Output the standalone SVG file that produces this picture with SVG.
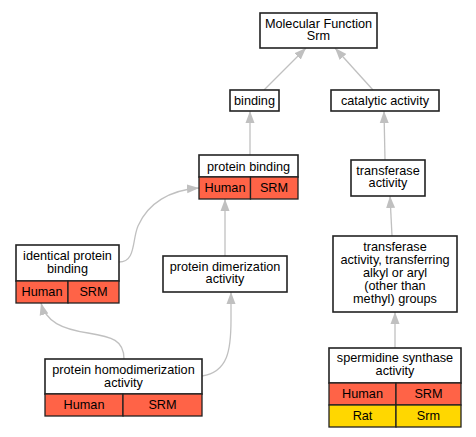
<svg xmlns="http://www.w3.org/2000/svg" width="476" height="437" viewBox="0 0 476 437">
<style>
text{font-family:"Liberation Sans",Arial,sans-serif;font-size:12.7px;fill:#000;text-anchor:middle}
.box{fill:#fff;stroke:#222;stroke-width:1.6}
.hu{fill:#ff6347;stroke:#222;stroke-width:1.3}
.rat{fill:#ffd700;stroke:#222;stroke-width:1.3}
.e{fill:none;stroke:#c0c0c0;stroke-width:1.3}
</style>
<defs>
<marker id="arr" viewBox="0 0 12 10" refX="12" refY="5" markerWidth="12" markerHeight="10" markerUnits="userSpaceOnUse" orient="auto">
<path d="M0,0.5 L12,5 L0,9.5 z" fill="#c0c0c0"/>
</marker>
</defs>
<rect width="476" height="437" fill="#fff"/>
<g id="connectors">
<path class="e" marker-end="url(#arr)" d="M264,90 L306,48"/>
<path class="e" marker-end="url(#arr)" d="M373,90 L335,48"/>
<path class="e" marker-end="url(#arr)" d="M250,155 L250,111"/>
<path class="e" marker-end="url(#arr)" d="M385,160 L384,111"/>
<path class="e" marker-end="url(#arr)" d="M392,236 L390,196"/>
<path class="e" marker-end="url(#arr)" d="M395,348 L395,312"/>
<path class="e" marker-end="url(#arr)" d="M225,256 L225,199"/>
<path class="e" marker-end="url(#arr)" d="M119,262 C136,262 132,240 138,226 C148,203 170,190 199,188"/>
<path class="e" marker-end="url(#arr)" d="M124,359 C124,340 112,337 88,333 C62,329 46,322 41,303"/>
<path class="e" marker-end="url(#arr)" d="M202,376 C228,372 231,350 231,320 L231,292"/>
</g>
<g id="mf">
<rect class="box" x="260" y="13" width="117" height="35"/>
<text x="318.5" y="27.5">Molecular Function</text>
<text x="318.5" y="40">Srm</text>
</g>
<g id="binding">
<rect class="box" x="230" y="90" width="49" height="21"/>
<text x="254.5" y="105">binding</text>
</g>
<g id="catalytic">
<rect class="box" x="331" y="90" width="108" height="21"/>
<text x="385" y="105">catalytic activity</text>
</g>
<g id="protein_binding">
<rect class="box" x="199" y="155" width="99" height="22"/>
<rect class="hu" x="199" y="177" width="51.5" height="22"/>
<rect class="hu" x="250.5" y="177" width="47.5" height="22"/>
<text x="248.5" y="170.5">protein binding</text>
<text x="225" y="192">Human</text>
<text x="274" y="192">SRM</text>
</g>
<g id="identical">
<rect class="box" x="16" y="245" width="103" height="36"/>
<rect class="hu" x="16" y="281" width="52" height="22"/>
<rect class="hu" x="68" y="281" width="51" height="22"/>
<text x="67.5" y="259.5">identical protein</text>
<text x="67.5" y="272.5">binding</text>
<text x="42" y="295.5">Human</text>
<text x="93.5" y="295.5">SRM</text>
</g>
<g id="dimerization">
<rect class="box" x="163" y="256" width="124" height="36"/>
<text x="225" y="270.5">protein dimerization</text>
<text x="225" y="283">activity</text>
</g>
<g id="homodimerization">
<rect class="box" x="45" y="359" width="157" height="35"/>
<rect class="hu" x="45" y="394" width="78" height="22"/>
<rect class="hu" x="123" y="394" width="79" height="22"/>
<text x="123.5" y="373.5">protein homodimerization</text>
<text x="123.5" y="386.5">activity</text>
<text x="84" y="409">Human</text>
<text x="162.5" y="409">SRM</text>
</g>
<g id="transferase">
<rect class="box" x="351" y="160" width="74" height="36"/>
<text x="388" y="174.5">transferase</text>
<text x="388" y="187">activity</text>
</g>
<g id="transferring">
<rect class="box" x="333" y="236" width="124" height="76"/>
<text x="395" y="250.5">transferase</text>
<text x="395" y="263.5">activity, transferring</text>
<text x="395" y="276.5">alkyl or aryl</text>
<text x="395" y="289.5">(other than</text>
<text x="395" y="302.5">methyl) groups</text>
</g>
<g id="spermidine">
<rect class="box" x="329" y="348" width="132" height="35"/>
<rect class="hu" x="329" y="383" width="67" height="22"/>
<rect class="hu" x="396" y="383" width="65" height="22"/>
<rect class="rat" x="329" y="405" width="67" height="22"/>
<rect class="rat" x="396" y="405" width="65" height="22"/>
<text x="395" y="362">spermidine synthase</text>
<text x="395" y="375">activity</text>
<text x="362.5" y="397.5">Human</text>
<text x="428.5" y="397.5">SRM</text>
<text x="362.5" y="419.5">Rat</text>
<text x="428.5" y="419.5">Srm</text>
</g>
</svg>
